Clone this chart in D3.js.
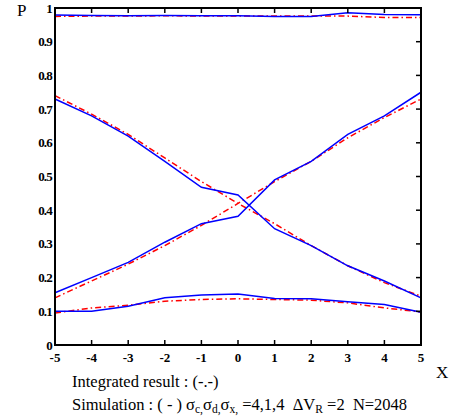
<!DOCTYPE html>
<html>
<head>
<meta charset="utf-8">
<script src="https://cdn.jsdelivr.net/npm/d3@7"></script>
<style>
  body { margin: 0; background: #fff; }
  text { font-family: "Liberation Serif", "Times New Roman", serif; }
</style>
</head>
<body>
<div id="chart"></div>
<script>
// x positions
var xs = [-5, -4, -3, -2, -1, 0, 1, 2, 3, 4, 5];

// simulation (solid blue)
var simTop  = [0.979, 0.978, 0.977, 0.978, 0.977, 0.977, 0.975, 0.975, 0.986, 0.981, 0.980];
var simDown = [0.730, 0.680, 0.620, 0.545, 0.468, 0.445, 0.345, 0.295, 0.235, 0.190, 0.140];
var simUp   = [0.155, 0.200, 0.245, 0.305, 0.360, 0.382, 0.490, 0.545, 0.625, 0.680, 0.750];
var simLow  = [0.100, 0.100, 0.115, 0.140, 0.148, 0.151, 0.138, 0.137, 0.128, 0.120, 0.097];

// integrated result (dash-dot red)
var intTop  = [0.975, 0.976, 0.976, 0.977, 0.976, 0.976, 0.976, 0.976, 0.976, 0.972, 0.972];
var intDown = [0.740, 0.685, 0.625, 0.555, 0.485, 0.420, 0.360, 0.295, 0.235, 0.185, 0.145];
var intUp   = [0.140, 0.190, 0.240, 0.295, 0.355, 0.420, 0.485, 0.545, 0.615, 0.675, 0.730];
var intLow  = [0.095, 0.110, 0.118, 0.130, 0.135, 0.137, 0.135, 0.133, 0.125, 0.110, 0.098];

var yTicks = [0, 0.1, 0.2, 0.3, 0.4, 0.5, 0.6, 0.7, 0.8, 0.9, 1];
var yTickLabels = ["0", "0.1", "0.2", "0.3", "0.4", "0.5", "0.6", "0.7", "0.8", "0.9", "1"];

var width = 455, height = 419;
var pLeft = 55, pRight = 421, pTop = 8, pBottom = 345;

var svg = d3.select("#chart").append("svg")
    .attr("width", width)
    .attr("height", height);

var x = d3.scaleLinear().domain([-5, 5]).range([pLeft, pRight]);
var y = d3.scaleLinear().domain([0, 1]).range([pBottom, pTop]);

var line = d3.line()
    .x(function(d, i) { return x(xs[i]); })
    .y(function(d) { return y(d); });

// red dash-dot curves first, blue on top
[intTop, intDown, intUp, intLow].forEach(function(s) {
    svg.append("path")
        .attr("d", line(s))
        .attr("fill", "none")
        .attr("stroke", "#ff0000")
        .attr("stroke-width", 1.5)
        .attr("stroke-dasharray", "6,3,1.5,3");
});

[simTop, simDown, simUp, simLow].forEach(function(s) {
    svg.append("path")
        .attr("d", line(s))
        .attr("fill", "none")
        .attr("stroke", "#0000ff")
        .attr("stroke-width", 1.5);
});

// ticks, inward on bottom, top and right
var ticks = svg.append("g").attr("stroke", "#000").attr("stroke-width", 1.5);
xs.forEach(function(v) {
    ticks.append("line").attr("x1", x(v)).attr("x2", x(v)).attr("y1", pBottom).attr("y2", pBottom - 5);
    ticks.append("line").attr("x1", x(v)).attr("x2", x(v)).attr("y1", pTop).attr("y2", pTop + 5);
});
yTicks.forEach(function(v) {
    ticks.append("line").attr("x1", pRight).attr("x2", pRight - 5).attr("y1", y(v)).attr("y2", y(v));
});

// frame
svg.append("rect")
    .attr("x", pLeft).attr("y", pTop)
    .attr("width", pRight - pLeft).attr("height", pBottom - pTop)
    .attr("fill", "none")
    .attr("stroke", "#000")
    .attr("stroke-width", 2);

// tick labels
svg.append("g").selectAll("text")
    .data(yTicks)
    .enter().append("text")
    .attr("x", pLeft - 3)
    .attr("y", function(d) { return y(d) + 4.5; })
    .attr("text-anchor", "end")
    .attr("font-size", 13)
    .attr("font-weight", "bold")
    .attr("letter-spacing", -0.8)
    .text(function(d, i) { return yTickLabels[i]; });

svg.append("g").selectAll("text")
    .data(xs)
    .enter().append("text")
    .attr("x", function(d) { return x(d); })
    .attr("y", pBottom + 17)
    .attr("text-anchor", "middle")
    .attr("font-size", 13)
    .attr("font-weight", "bold")
    .text(function(d) { return d; });

// axis names
svg.append("text").attr("x", 17).attr("y", 16).attr("font-size", 17).text("P");
svg.append("text").attr("x", 436).attr("y", 378).attr("font-size", 17).text("X");

// captions
svg.append("text").attr("x", 72).attr("y", 387).attr("font-size", 16.5)
    .text("Integrated result : (-.-)");

var cap = svg.append("text").attr("x", 72).attr("y", 410).attr("font-size", 16.5);
cap.append("tspan").text("Simulation : ( - ) σ");
cap.append("tspan").attr("font-size", 11.5).attr("dy", 3).text("c,");
cap.append("tspan").attr("dy", -3).text("σ");
cap.append("tspan").attr("font-size", 11.5).attr("dy", 3).text("d,");
cap.append("tspan").attr("dy", -3).text("σ");
cap.append("tspan").attr("font-size", 11.5).attr("dy", 3).text("x,");
cap.append("tspan").attr("dy", -3).text("\u00a0=4,1,4\u00a0\u00a0ΔV");
cap.append("tspan").attr("font-size", 11.5).attr("dy", 3).text("R");
cap.append("tspan").attr("dy", -3).text("\u00a0=2\u00a0\u00a0N=2048");
</script>
</body>
</html>
